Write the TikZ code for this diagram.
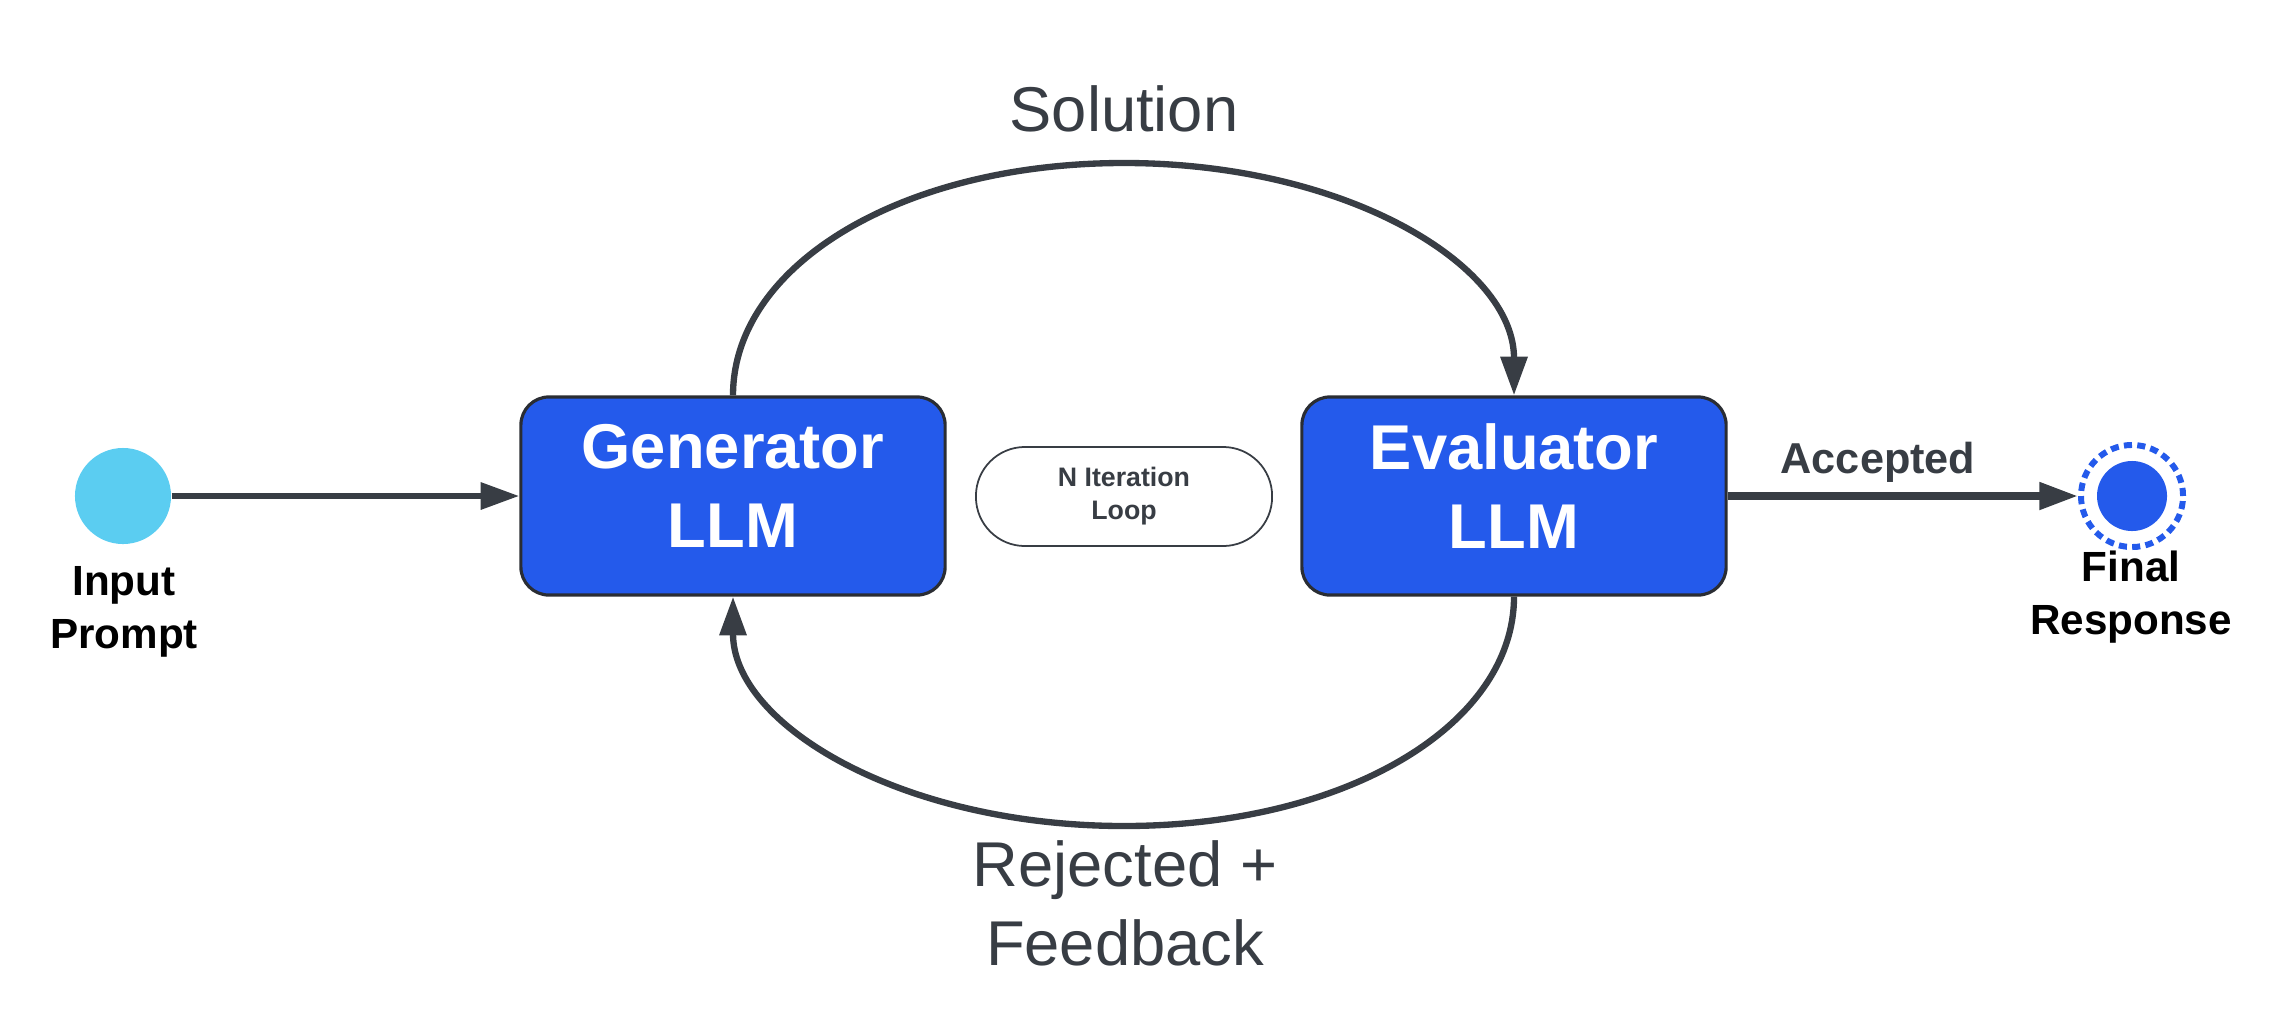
\documentclass[tikz,border=0pt]{standalone}
\usepackage{fontspec}
\setmainfont{Liberation Sans}
\usetikzlibrary{arrows.meta}
\definecolor{boxblue}{HTML}{245AEB}
\definecolor{inblue}{HTML}{5BCDF1}
\definecolor{ink}{HTML}{383D44}
\definecolor{edgeink}{HTML}{2A2D33}
\begin{document}
\begin{tikzpicture}[x=0.01cm,y=-0.01cm,
  llmbox/.style={draw=edgeink, line width=0.9pt, fill=boxblue, rounded corners=8pt,
    minimum width=4.24cm, minimum height=1.98cm, inner sep=0pt, align=center,
    text=white, font=\fontsize{18}{22.5}\selectfont\bfseries, text depth=5.7pt},
  startdot/.style={circle, fill=inblue, draw=none, minimum size=0.96cm, inner sep=0pt},
  ring/.style={circle, draw=boxblue, line width=1.7pt, dash pattern=on 2.3pt off 1.5pt,
    minimum size=1.02cm, inner sep=0pt},
  core/.style={circle, fill=boxblue, draw=none, minimum size=0.70cm, inner sep=0pt},
  pill/.style={draw=ink, line width=0.5pt, fill=white, rounded corners=0.49cm,
    minimum width=2.96cm, minimum height=0.99cm, inner sep=0pt, align=center,
    text=ink, font=\fontsize{7.6}{9.4}\selectfont\bfseries},
  endlbl/.style={anchor=base, align=center, text=black, font=\fontsize{12}{14.8}\selectfont\bfseries},
  edgelbl/.style={anchor=base, align=center, text=ink, font=\fontsize{18}{22.2}\selectfont},
  acclbl/.style={anchor=base, text=ink, font=\fontsize{12.3}{14}\selectfont\bfseries},
  conn/.style={draw=ink, line width=1.8pt, -{Triangle[length=11pt,width=7.4pt]}}
]
\useasboundingbox (0,0) rectangle (2280,1024);

% nodes
\node[startdot] (in) at (123,496) {};
\node[endlbl] (inlbl) at (124,648) {Input\\Prompt};
\node[llmbox] (gen) at (733,496) {Generator\\LLM};
\node[llmbox] (eval) at (1514,496) {Evaluator\\LLM};
\node[pill] (loop) at (1124,496.5) {N Iteration\\Loop};
\node[ring] (final) at (2132,496) {};
\node[core] (finalcore) at (final) {};
\node[endlbl] (finlbl) at (2131,634) {Final\\Response};

% labels
\node[edgelbl] (sol) at (1124,131) {Solution};
\node[edgelbl] (rej) at (1125,965) {Rejected +\\Feedback};
\node[acclbl] (acc) at (1878,473) {Accepted};

% connectors
\draw[conn] (in) -- (gen);
\draw[conn, line width=2.2pt] (eval) -- (final);
\draw[conn] (gen.north) .. controls (733,265) and (902,163) .. (1124,163)
  .. controls (1346,163) and (1514,265) .. (eval.north);
\draw[conn] (eval.south) .. controls (1514,725) and (1346,826) .. (1124,826)
  .. controls (902,826) and (733,725) .. (gen.south);
\end{tikzpicture}
\end{document}
